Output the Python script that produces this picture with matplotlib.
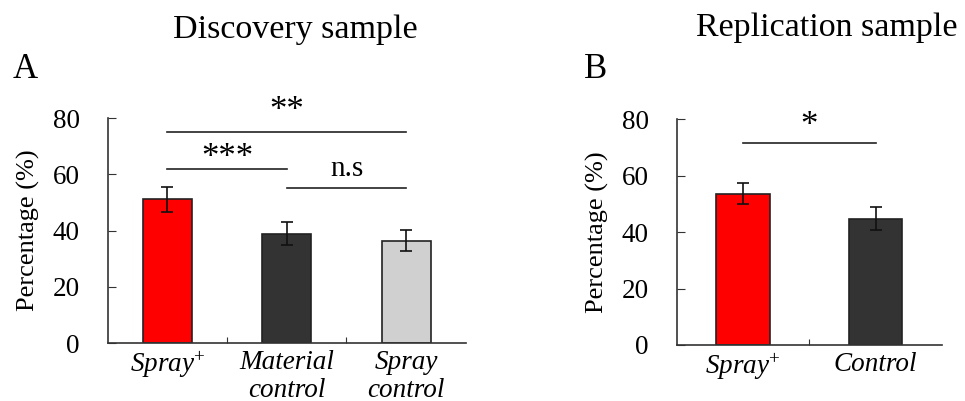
import matplotlib
matplotlib.use("Agg")
import matplotlib.pyplot as plt

plt.rcParams['font.family'] = ['Liberation Serif', 'DejaVu Serif']
plt.rcParams['mathtext.fontset'] = 'custom'
plt.rcParams['mathtext.rm'] = 'Liberation Serif'
plt.rcParams['mathtext.it'] = 'Liberation Serif:italic'

# Panel A data
cats_a = ["Spray$^{+}$", "Material\ncontrol", "Spray\ncontrol"]
vals_a = [51.1, 38.9, 36.4]
errs_a = [4.5, 4.0, 3.8]
cols_a = ["#FF0000", "#333333", "#D0D0D0"]
# significance: (i, j, height, label)
sig_a = [(0, 2, 75.1, "**"), (0, 1, 61.8, "***"), (1, 2, 55.2, "n.s")]

# Panel B data
cats_b = ["Spray$^{+}$", "Control"]
vals_b = [53.6, 44.7]
errs_b = [3.8, 4.1]
cols_b = ["#FF0000", "#333333"]
sig_b = [(0, 1, 71.6, "*")]

yticks = [0, 20, 40, 60, 80]
label_offsets = {"**": 1.5, "***": -2.2, "n.s": 2.0, "*": 0.0}

fig = plt.figure(figsize=(9.65, 4.01), dpi=100)
axA = fig.add_axes([0.1114, 0.1446, 0.3715, 0.5611])
axB = fig.add_axes([0.7012, 0.1397, 0.2750, 0.5628])


def draw(ax, cats, vals, errs, cols, sigs, width):
    x = list(range(len(cats)))
    ax.bar(x, vals, width=width, color=cols, edgecolor="#222222", linewidth=1.2, zorder=2)
    ax.errorbar(x, vals, yerr=errs, fmt="none", ecolor="#111111", elinewidth=1.2,
                capsize=4, capthick=1.2, zorder=3)
    ax.set_xlim(-0.5, len(cats) - 0.5)
    ax.set_ylim(0, 80)
    ax.set_yticks(yticks)
    ax.set_xticks([i + 0.5 for i in range(len(cats) - 1)], minor=False)
    ax.set_xticklabels([])
    ax.set_xticks(x, minor=True)
    ax.set_xticklabels(cats, minor=True, fontstyle="italic", fontsize=19.5, linespacing=1.15)
    ax.tick_params(axis="x", which="minor", length=0, pad=5)
    ax.tick_params(axis="x", which="major", length=4, direction="in", color="#333333")
    ax.tick_params(axis="y", direction="in", length=6, pad=20, labelsize=19.5, color="#333333")
    for s in ["top", "right"]:
        ax.spines[s].set_visible(False)
    for s in ["left", "bottom"]:
        ax.spines[s].set_color("#333333")
        ax.spines[s].set_linewidth(1.2)
    ax.set_ylabel("Percentage (%)", fontsize=19, labelpad=9)
    for i, j, h, lab in sigs:
        ax.plot([i, j], [h, h], color="#222222", lw=1.2, clip_on=False)
        fs = 21 if lab == "n.s" else 25
        ax.text((i + j) / 2, h + label_offsets[lab], lab, ha="center", va="bottom", fontsize=fs)


draw(axA, cats_a, vals_a, errs_a, cols_a, sig_a, 0.41)
draw(axB, cats_b, vals_b, errs_b, cols_b, sig_b, 0.40)

fig.text(295 / 965, 1 - 30 / 401, "Discovery sample", ha="center", va="center", fontsize=24.5)
fig.text(827 / 965, 1 - 28 / 401, "Replication sample", ha="center", va="center", fontsize=24.5)
fig.text(25 / 965, 1 - 69 / 401, "A", ha="center", va="center", fontsize=25)
fig.text(596 / 965, 1 - 69 / 401, "B", ha="center", va="center", fontsize=25)

fig.savefig("out.png", dpi=100)
